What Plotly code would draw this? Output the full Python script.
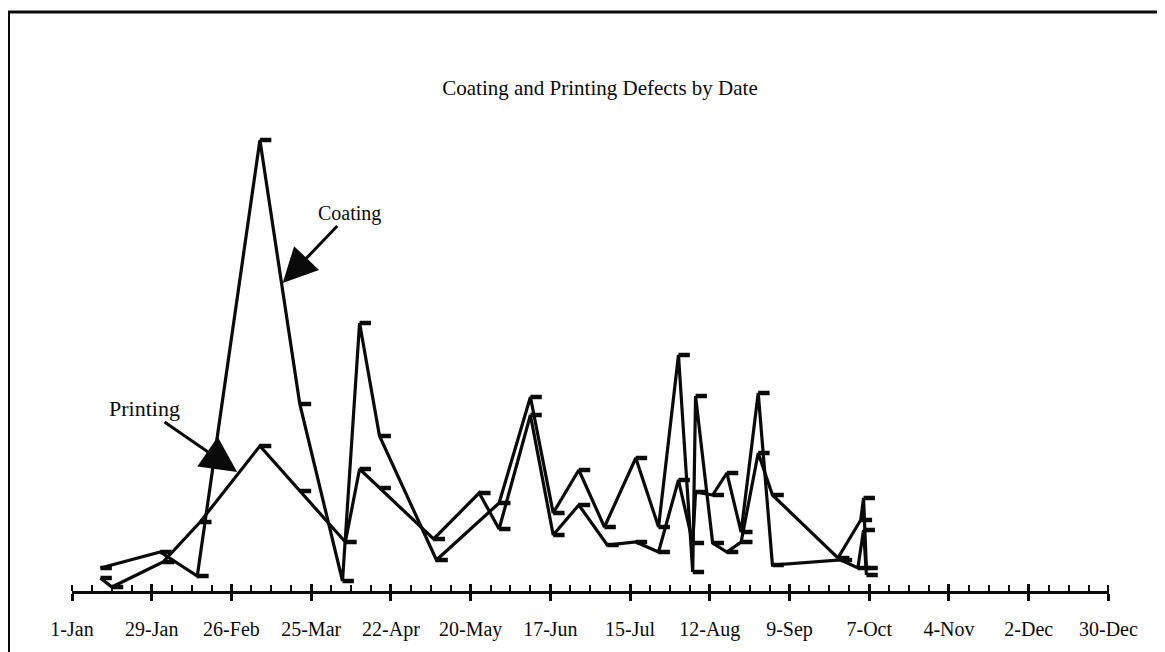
import pandas as pd
import plotly.graph_objects as go

# ---------------- data ----------------
coating_dates = ["2024-01-11", "2024-02-01", "2024-02-14", "2024-03-07", "2024-03-21",
                 "2024-04-05", "2024-04-11", "2024-04-18", "2024-05-08", "2024-05-30",
                 "2024-06-10", "2024-06-18", "2024-06-27", "2024-07-06", "2024-07-17",
                 "2024-07-25", "2024-08-01", "2024-08-06", "2024-08-07", "2024-08-13",
                 "2024-08-18", "2024-08-23", "2024-08-29", "2024-09-03", "2024-09-26",
                 "2024-10-04", "2024-10-05", "2024-10-06"]
coating_values = [2.3, 3.9, 1.5, 45.1, 18.7,
                  1.0, 26.8, 15.5, 3.1, 8.8,
                  19.4, 7.8, 12.1, 6.4, 13.3,
                  6.4, 23.6, 1.9, 19.5, 4.8,
                  3.9, 4.9, 13.8, 9.6, 3.3,
                  7.1, 9.3, 2.3]

printing_dates = ["2024-01-11", "2024-01-15", "2024-02-02", "2024-02-15", "2024-03-07",
                  "2024-03-21", "2024-04-06", "2024-04-11", "2024-04-18", "2024-05-07",
                  "2024-05-23", "2024-05-30", "2024-06-10", "2024-06-18", "2024-06-27",
                  "2024-07-07", "2024-07-17", "2024-07-25", "2024-08-01", "2024-08-06",
                  "2024-08-07", "2024-08-13", "2024-08-18", "2024-08-23", "2024-08-29",
                  "2024-09-03", "2024-09-27", "2024-10-03", "2024-10-05", "2024-10-06"]
printing_values = [1.3, 0.4, 2.9, 6.9, 14.5,
                   10.0, 4.9, 12.2, 10.3, 5.2,
                   9.8, 6.2, 17.6, 5.6, 8.6,
                   4.6, 4.9, 3.9, 11.1, 4.8,
                   9.9, 9.6, 11.8, 5.9, 19.8,
                   2.6, 3.1, 2.3, 6.1, 1.6]

tick_labels = ["1-Jan", "29-Jan", "26-Feb", "25-Mar", "22-Apr", "20-May", "17-Jun",
               "15-Jul", "12-Aug", "9-Sep", "7-Oct", "4-Nov", "2-Dec", "30-Dec"]

year_start = "2024-01-01"
title_text = "Coating and Printing Defects by Date"

coating_arrow = {"date": "2024-03-15", "value": 30.8, "text": "Coating"}
printing_arrow = {"date": "2024-02-28", "value": 11.9, "text": "Printing"}

# ---------------- helpers ----------------
t0 = pd.Timestamp(year_start)


def day_of_year(dates):
    return [(pd.Timestamp(d) - t0).days for d in dates]


coating_x = day_of_year(coating_dates)
printing_x = day_of_year(printing_dates)
tick_vals = [28 * i for i in range(len(tick_labels))]

# ---------------- style / layout ----------------
W, H = 1165, 652
ML, MT = 64, 83
PW, PH = 1037, 500
MR = W - ML - PW
MB = H - MT - PH
INK = "#0a0a0a"
SERIF = "Liberation Serif, Times New Roman, serif"


def px_x(px):
    return (px - ML) / PW


def px_y(py):
    return (MT + PH - py) / PH


def series(name, xs, ys):
    return go.Scatter(
        x=xs, y=ys, name=name, mode="lines",
        line=dict(color=INK, width=3.2),
        error_x=dict(type="constant", symmetric=False, value=4, valueminus=0,
                     color=INK, thickness=4.5, width=0),
        showlegend=False, hoverinfo="y",
    )


fig = go.Figure()
fig.add_trace(series("Coating", coating_x, coating_values))
fig.add_trace(series("Printing", printing_x, printing_values))
# invisible companion trace so the overlay axis (upper half of major ticks) is drawn
fig.add_trace(go.Scatter(x=coating_x, y=coating_values, xaxis="x2", mode="lines",
                         line=dict(width=0), opacity=0, showlegend=False, hoverinfo="skip"))

x_range = [0, tick_vals[-1] + 0.2]

fig.update_layout(
    width=W, height=H,
    margin=dict(l=ML, r=MR, t=MT, b=MB),
    paper_bgcolor="white", plot_bgcolor="white",
    font=dict(family=SERIF, color=INK),
    title=dict(text=title_text, x=592 / W, xanchor="center",
               y=1 - 80 / H, yanchor="middle", yref="container",
               font=dict(family=SERIF, size=21, color=INK)),
    xaxis=dict(
        range=x_range, tickmode="array", tickvals=tick_vals, ticktext=tick_labels,
        ticks="outside", ticklen=7, tickwidth=2.5, tickcolor=INK,
        ticklabelstandoff=11,
        minor=dict(tickmode="linear", ticks="inside", ticklen=6, tickwidth=2,
                   tickcolor=INK, tick0=0, dtick=7, showgrid=False),
        showline=True, linecolor=INK, linewidth=2.5,
        showgrid=False, zeroline=False,
        tickfont=dict(family=SERIF, size=20, color=INK),
    ),
    xaxis2=dict(
        range=x_range, overlaying="x", anchor="y", side="bottom",
        tickmode="array", tickvals=tick_vals,
        ticks="inside", ticklen=7, tickwidth=2.5, tickcolor=INK,
        showticklabels=False, showline=False, showgrid=False, zeroline=False,
    ),
    yaxis=dict(range=[0, 50], visible=False, showgrid=False, zeroline=False),
    annotations=[
        dict(x=day_of_year([coating_arrow["date"]])[0], y=coating_arrow["value"],
             xref="x", yref="y", text=coating_arrow["text"],
             showarrow=True, arrowhead=2, arrowsize=2.3, arrowwidth=3, arrowcolor=INK,
             ax=67, ay=-70, font=dict(family=SERIF, size=20, color=INK)),
        dict(x=day_of_year([printing_arrow["date"]])[0], y=printing_arrow["value"],
             xref="x", yref="y", text=printing_arrow["text"],
             showarrow=True, arrowhead=2, arrowsize=2.4, arrowwidth=3, arrowcolor=INK,
             ax=-93, ay=-64, font=dict(family=SERIF, size=22, color=INK)),
    ],
    shapes=[
        dict(type="line", xref="paper", yref="paper",
             x0=px_x(0), x1=px_x(W + 10), y0=px_y(4), y1=px_y(4),
             line=dict(color=INK, width=3)),
        dict(type="line", xref="paper", yref="paper",
             x0=px_x(1), x1=px_x(1), y0=px_y(4), y1=px_y(H + 10),
             line=dict(color=INK, width=2)),
    ],
)

fig.write_html("out.html")
